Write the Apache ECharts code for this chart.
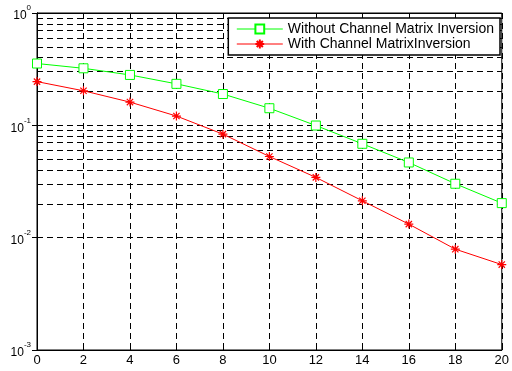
<!DOCTYPE html>
<html>
<head>
<meta charset="utf-8">
<script src="https://cdn.jsdelivr.net/npm/echarts@6/dist/echarts.min.js"></script>
<style>html,body{margin:0;padding:0;background:#fff;}#c{width:512px;height:371px;}</style>
</head>
<body>
<div id="c"></div>
<script>
var xValues = [0, 2, 4, 6, 8, 10, 12, 14, 16, 18, 20];
var withoutInversion = [0.355, 0.322, 0.281, 0.234, 0.19, 0.142, 0.0996, 0.0685, 0.0467, 0.0302, 0.0203];
var withInversion = [0.245, 0.203, 0.161, 0.121, 0.0835, 0.0528, 0.0344, 0.0213, 0.0132, 0.0079, 0.00576];
var seriesNames = ['Without Channel Matrix Inversion', 'With Channel MatrixInversion'];

function pairs(vals) { return xValues.map(function (x, i) { return [x, vals[i]]; }); }

var minorLines = [];
for (var d = -3; d <= -1; d++) {
  for (var k = 2; k <= 9; k++) {
    minorLines.push({ yAxis: k * Math.pow(10, d) });
  }
}

var starPath = 'path://M0,-5L0,5M-5,0L5,0M-3.5,-3.5L3.5,3.5M-3.5,3.5L3.5,-3.5';
var font = 'Arial, "Liberation Sans", sans-serif';
var dash = [6, 4];

function yLabel(v) {
  var e = Math.round(Math.log10(v));
  return '{b|10}{s|' + e + '}';
}

var chart = echarts.init(document.getElementById('c'), null, { renderer: 'canvas' });
chart.setOption({
  animation: false,
  backgroundColor: '#fff',
  grid: { left: 37, right: 7, top: 13, bottom: 21, show: true, borderColor: '#000', borderWidth: 1, backgroundColor: 'transparent' },
  legend: {
    orient: 'vertical', top: 18, right: 12, z: 20,
    backgroundColor: '#fff', borderColor: '#000', borderWidth: 1.5, borderRadius: 0,
    padding: [4, 6, 4, 8], itemGap: 1, itemWidth: 46, itemHeight: 11,
    textStyle: { fontSize: 14, color: '#000', fontFamily: font },
    lineStyle: { width: 1 },
    data: seriesNames
  },
  xAxis: [{
    type: 'value', min: 0, max: 20, interval: 2,
    axisLine: { show: true, lineStyle: { color: '#000' } },
    axisTick: { show: true, inside: true, length: 5, lineStyle: { color: '#000' } },
    axisLabel: { color: '#000', fontSize: 13, fontFamily: font, margin: 4 },
    splitLine: { show: true, lineStyle: { color: '#000', type: dash, width: 1 } }
  }, {
    type: 'value', min: 0, max: 20, interval: 2, position: 'top',
    axisLine: { show: true, lineStyle: { color: '#000' } },
    axisTick: { show: true, inside: true, length: 5, lineStyle: { color: '#000' } },
    axisLabel: { show: false }, splitLine: { show: false }
  }],
  yAxis: [{
    type: 'log', logBase: 10, min: 0.001, max: 1,
    axisLine: { show: true, lineStyle: { color: '#000' } },
    axisTick: { show: true, inside: true, length: 5, lineStyle: { color: '#000' } },
    axisLabel: {
      color: '#000', fontFamily: font, margin: 6, formatter: yLabel,
      rich: {
        b: { fontSize: 12, fontFamily: font, color: '#000', verticalAlign: 'bottom', lineHeight: 18 },
        s: { fontSize: 8, fontFamily: font, color: '#000', verticalAlign: 'top', lineHeight: 18 }
      }
    },
    splitLine: { show: true, lineStyle: { color: '#000', type: dash, width: 1 } }
  }, {
    type: 'log', logBase: 10, min: 0.001, max: 1, position: 'right',
    axisLine: { show: true, lineStyle: { color: '#000' } },
    axisTick: { show: true, inside: true, length: 5, lineStyle: { color: '#000' } },
    axisLabel: { show: false }, splitLine: { show: false }
  }],
  series: [{
    name: 'minor', type: 'line', data: [], z: 1, silent: true,
    markLine: {
      silent: true, symbol: ['none', 'none'], animation: false, z: 1,
      label: { show: false },
      lineStyle: { color: '#000', type: dash, width: 1 },
      emphasis: { disabled: true },
      data: minorLines
    }
  }, {
    name: seriesNames[0], type: 'line', data: pairs(withoutInversion), z: 3,
    symbol: 'rect', symbolSize: 9,
    lineStyle: { color: '#00ff00', width: 1 },
    itemStyle: { color: '#fff', borderColor: '#00ff00', borderWidth: 1 }
  }, {
    name: seriesNames[1], type: 'line', data: pairs(withInversion), z: 4,
    symbol: starPath, symbolSize: 9,
    lineStyle: { color: '#ff0000', width: 1 },
    itemStyle: { color: '#ff0000', borderColor: '#ff0000', borderWidth: 1.2 }
  }]
});
</script>
</body>
</html>
